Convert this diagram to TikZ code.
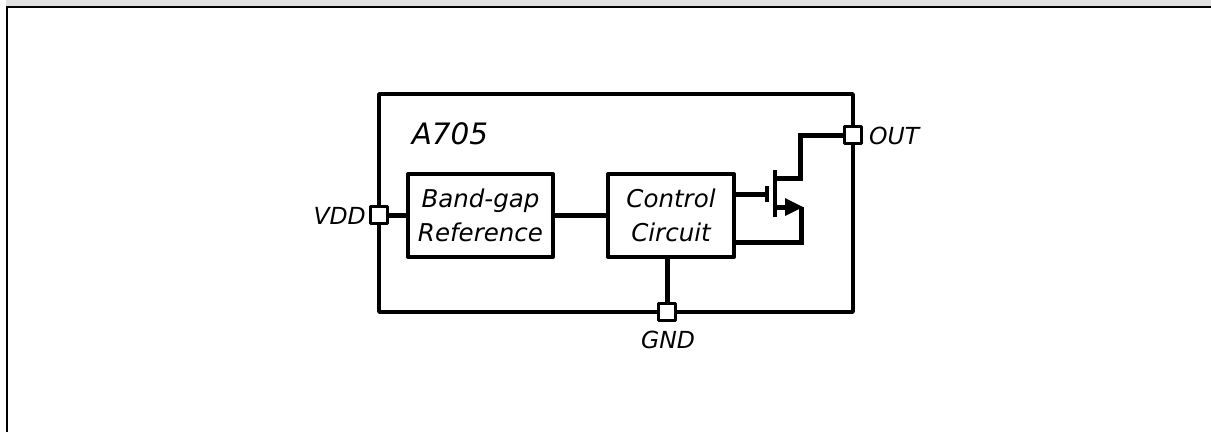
\documentclass[tikz,border=0pt]{standalone}
\usepackage{fontspec}
\setmainfont{DejaVu Sans}
\tikzset{
    block/.style={draw, line width=4pt, line join=round, outer sep=0pt, inner sep=0pt, align=center, font=\fontsize{24.5}{34}\selectfont\itshape},
    pin/.style={draw, fill=white, line width=2.8pt, line join=round, outer sep=0pt, inner sep=0pt, minimum size=17pt},
    pinlabel/.style={font=\fontsize{23.5}{26}\selectfont\itshape, inner sep=0pt},
    wire/.style={line width=5pt, line join=miter}
}
\begin{document}
\begin{tikzpicture}[x=1pt, y=-1pt]
            \useasboundingbox (0, 0) rectangle (1211, 432);
            \fill[white] (0, 0) rectangle (1211, 432);
            \fill[black!12] (6, 0) rectangle (1211, 6);
            \draw[line width=2.2pt] (7, 432) -- (7, 7) -- (1211, 7);
            %
            \node[draw, line width=3.5pt, line join=round, outer sep=0pt, minimum width=474pt, minimum height=218pt] (chip) at (616, 203) {};
            \node[block, minimum width=145pt, minimum height=83pt] (bandgap) at (480.5, 215.5) {Band-gap\\Reference};
            \node[block, minimum width=126pt, minimum height=83pt] (control) at (671, 215.5) {Control\\Circuit};
            %
            \node[font=\fontsize{29.5}{32}\selectfont\itshape, inner sep=0pt] (name) at (450, 134) {A705};
            %
            \coordinate (gate) at (767, 194);
            \coordinate (gatetop) at (767, 186);
            \coordinate (gatebot) at (767, 202);
            \coordinate (chantop) at (775, 170);
            \coordinate (chanbot) at (775, 217);
            \coordinate (drain) at (775, 178);
            \coordinate (source) at (775, 207);
            \coordinate (tipbase) at (785, 207);
            \coordinate (tip) at (803, 207);
            \coordinate (bend) at (800.5, 178);
            \coordinate (return) at (801, 242);
            %
            \node[pin] (vdd) at (379, 215) {};
            \node[pin] (out) at (853, 135) {};
            \node[pin] (gnd) at (667, 312) {};
            %
            \draw[wire] (vdd) -- (bandgap.west |- vdd);
            \draw[wire] (bandgap.east) -- (control.west);
            \draw[wire] (control.south -| gnd) -- (gnd);
            \draw[wire] (out.west) -- (out.west -| bend) -- (bend) -- (drain);
            \draw[wire] (gate -| control.east) -- (gate);
            \draw[wire] (return -| control.east) -- (return) -- (return |- tip);
            \draw[wire] (source) -- (tipbase);
            %
            \draw[line width=4pt] (gatetop) -- (gatebot);
            \draw[line width=4pt] (chantop) -- (chanbot);
            \fill (785, 198) -- (tip) -- (785, 216) -- cycle;
            %
            \node[pinlabel, anchor=east] (vddlabel) at (366, 216) {VDD};
            \node[pinlabel, anchor=west] (outlabel) at (869, 136) {OUT};
            \node[pinlabel] (gndlabel) at (668, 340) {GND};
\end{tikzpicture}
\end{document}
